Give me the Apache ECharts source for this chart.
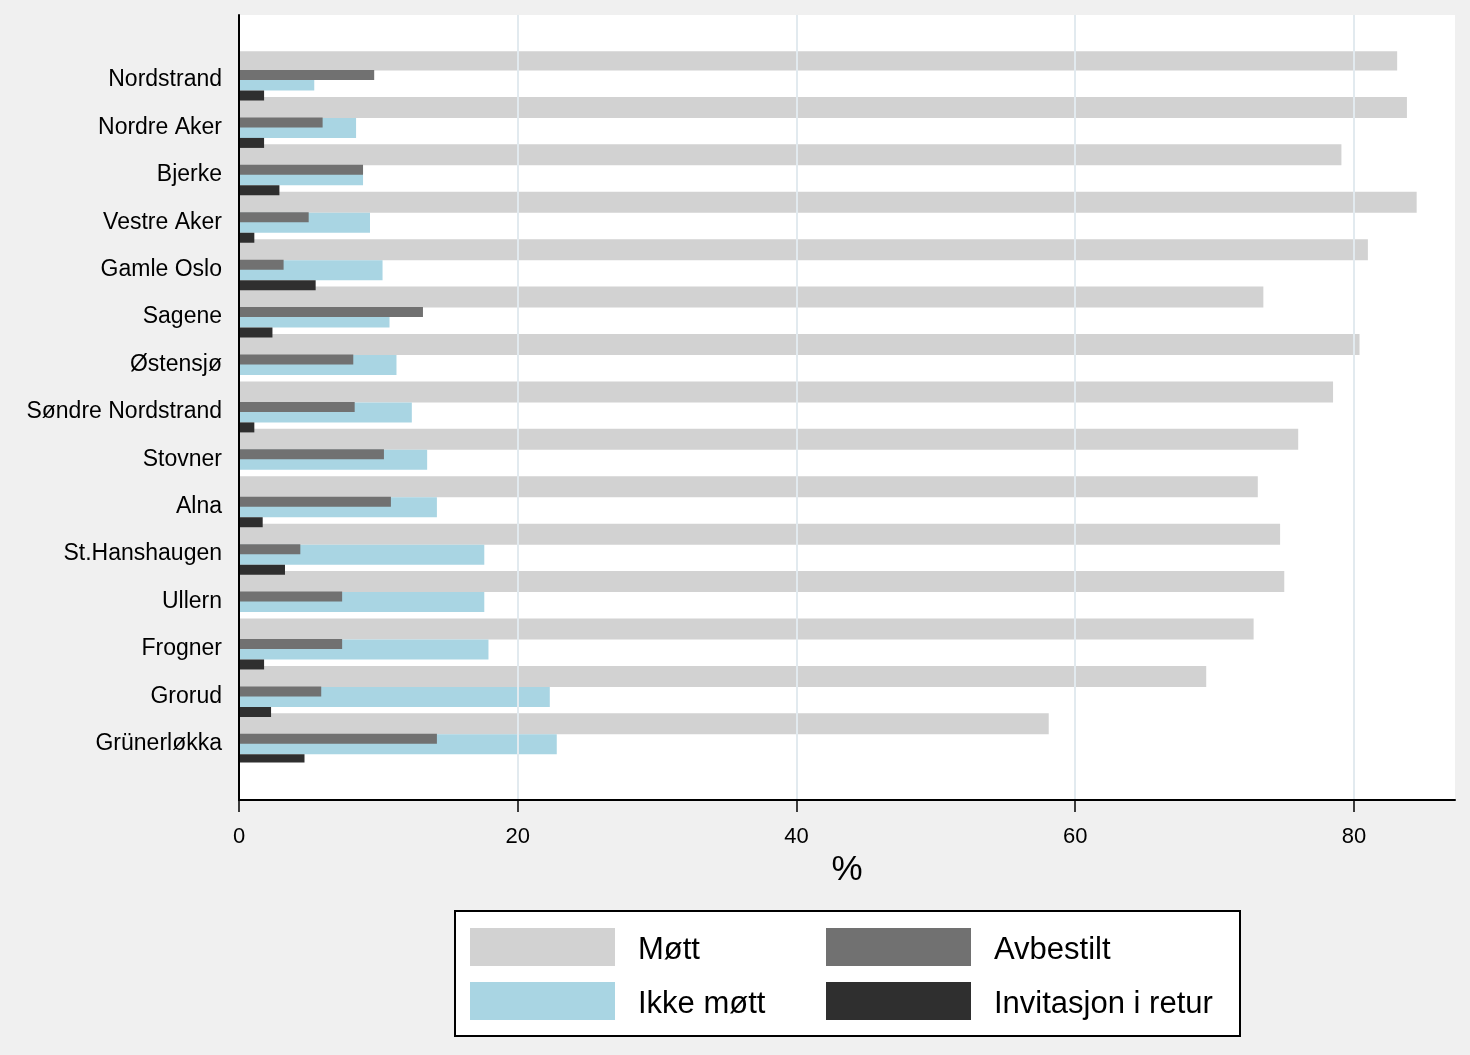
<!DOCTYPE html>
<html>
<head>
<meta charset="utf-8">
<script src="https://cdn.jsdelivr.net/npm/echarts@6/dist/echarts.min.js"></script>
<style>
html,body{margin:0;padding:0;background:#f0f0f0;}
#chart{width:1470px;height:1055px;}
</style>
</head>
<body>
<div id="chart"></div>
<script>
const categories = ['Nordstrand','Nordre Aker','Bjerke','Vestre Aker','Gamle Oslo','Sagene','Østensjø','Søndre Nordstrand','Stovner','Alna','St.Hanshaugen','Ullern','Frogner','Grorud','Grünerløkka'];
const mott      = [83.1, 83.8, 79.1, 84.5, 81.0, 73.5, 80.4, 78.5, 76.0, 73.1, 74.7, 75.0, 72.8, 69.4, 58.1];
const avbestilt = [9.7, 6.0, 8.9, 5.0, 3.2, 13.2, 8.2, 8.3, 10.4, 10.9, 4.4, 7.4, 7.4, 5.9, 14.2];
const ikkeMott  = [5.4, 8.4, 8.9, 9.4, 10.3, 10.8, 11.3, 12.4, 13.5, 14.2, 17.6, 17.6, 17.9, 22.3, 22.8];
const invRetur  = [1.8, 1.8, 2.9, 1.1, 5.5, 2.4, 0, 1.1, 0, 1.7, 3.3, 0, 1.8, 2.3, 4.7];
const xTicks = [0, 20, 40, 60, 80];
const xMax = 87.25;

const FONT = '"Liberation Sans", Arial, Helvetica, sans-serif';
const chart = echarts.init(document.getElementById('chart'));
chart.setOption({
  animation: false,
  backgroundColor: '#f0f0f0',
  textStyle: {fontFamily: FONT},
  grid: [
    {left: 239, right: 15, top: 15, bottom: 255, show: true, backgroundColor: '#ffffff', borderWidth: 0, containLabel: false},
    {left: 239, right: 15, top: 51.3, bottom: 292.5, containLabel: false}
  ],
  xAxis: [
    {
      type: 'value', gridIndex: 0, min: 0, max: xMax, interval: 20, z: 10,
      axisLine: {show: true, onZero: false, lineStyle: {color: '#000', width: 2}},
      axisTick: {show: true, length: 12, customValues: xTicks, lineStyle: {color: '#000', width: 1.5}},
      axisLabel: {show: true, customValues: xTicks, margin: 26, fontSize: 22, color: '#000', fontFamily: FONT},
      splitLine: {show: true, lineStyle: {color: '#e2eaef', width: 2}},
      name: '%', nameLocation: 'middle', nameGap: 53,
      nameTextStyle: {fontSize: 35, color: '#000', fontFamily: FONT}
    },
    {type: 'value', gridIndex: 1, min: 0, max: xMax, show: false}
  ],
  yAxis: [
    {
      type: 'value', gridIndex: 0, min: 0, max: 1, z: 10,
      axisLine: {show: true, lineStyle: {color: '#000', width: 2}},
      axisTick: {show: false}, axisLabel: {show: false}, splitLine: {show: false}
    },
    {
      type: 'category', gridIndex: 1, data: categories, inverse: true,
      axisLine: {show: false}, axisTick: {show: false}, splitLine: {show: false},
      axisLabel: {
        margin: 17, formatter: '{a|{value}}',
        rich: {a: {fontSize: 23, color: '#000', fontFamily: FONT, padding: [10, 0, 0, 0]}}
      }
    },
    {
      type: 'category', gridIndex: 1, data: categories, inverse: true, show: false
    }
  ],
  legend: [
    {
      left: 470, top: 928, orient: 'vertical', padding: 0,
      itemWidth: 145, itemHeight: 38, itemGap: 16, icon: 'rect', z: 5,
      data: ['Møtt', 'Ikke møtt'],
      formatter: '{a|{name}}',
      textStyle: {fontSize: 31, color: '#000', fontFamily: FONT,
        rich: {a: {fontSize: 31, color: '#000', fontFamily: FONT, padding: [6, 0, 0, 18]}}}
    },
    {
      left: 826, top: 928, orient: 'vertical', padding: 0,
      itemWidth: 145, itemHeight: 38, itemGap: 16, icon: 'rect', z: 5,
      data: ['Avbestilt', 'Invitasjon i retur'],
      formatter: '{a|{name}}',
      textStyle: {fontSize: 31, color: '#000', fontFamily: FONT,
        rich: {a: {fontSize: 31, color: '#000', fontFamily: FONT, padding: [6, 0, 0, 18]}}}
    }
  ],
  graphic: [
    {type: 'rect', z: 1, shape: {x: 455, y: 911, width: 785, height: 125},
     style: {fill: '#ffffff', stroke: '#000000', lineWidth: 2}}
  ],
  series: [
    {name: 'Møtt', type: 'bar', xAxisIndex: 1, yAxisIndex: 1, data: mott,
     barWidth: 21, barGap: '0%', itemStyle: {color: '#d2d2d2'}},
    {name: 'Ikke møtt', type: 'bar', xAxisIndex: 1, yAxisIndex: 1, data: ikkeMott,
     barWidth: 20, barGap: '0%', itemStyle: {color: '#a9d5e3'}},
    {name: 'Invitasjon i retur', type: 'bar', xAxisIndex: 1, yAxisIndex: 1, data: invRetur,
     barWidth: 10, barGap: '0%', itemStyle: {color: '#2f2f2f'}},
    {name: 'Avbestilt', type: 'bar', xAxisIndex: 1, yAxisIndex: 2, data: avbestilt,
     barWidth: 10, itemStyle: {color: '#717171'}}
  ]
});
</script>
</body>
</html>
